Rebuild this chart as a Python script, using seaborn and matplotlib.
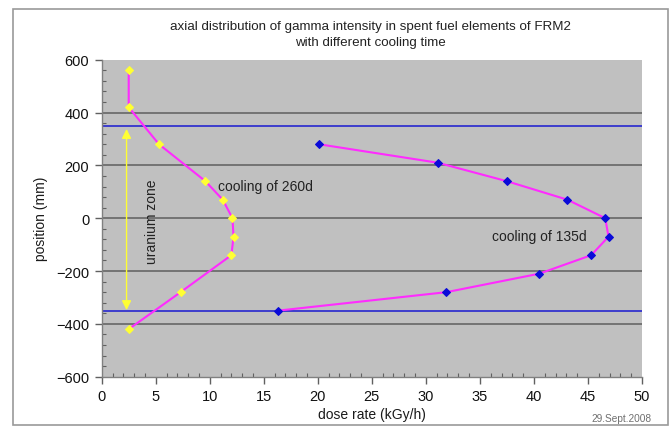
import matplotlib
matplotlib.use("Agg")
import matplotlib.pyplot as plt
import seaborn as sns
import pandas as pd
from matplotlib.ticker import MultipleLocator
from matplotlib.patches import Rectangle

# ---- data ----
dose_260d = [2.5, 2.5, 5.3, 9.6, 11.2, 12.1, 12.2, 12.0, 7.3, 2.5]
pos_260d = [560, 420, 280, 140, 70, 0, -70, -140, -280, -420]
dose_135d = [20.1, 31.1, 37.5, 43.1, 46.6, 46.9, 45.3, 40.5, 31.9, 16.3]
pos_135d = [280, 210, 140, 70, 0, -70, -140, -210, -280, -350]
zone_limits = [350, -350]
x_ticks = [0, 5, 10, 15, 20, 25, 30, 35, 40, 45, 50]
y_ticks = [-600, -400, -200, 0, 200, 400, 600]
title = "axial distribution of gamma intensity in spent fuel elements of FRM2\nwith different cooling time"
label_260 = "cooling of 260d"
label_135 = "cooling of 135d"
zone_label = "uranium zone"
date_label = "29.Sept.2008"

sns.set_theme(style="white")
plt.rcParams['font.family'] = ['Liberation Sans', 'DejaVu Sans']

fig = plt.figure(figsize=(6.72, 4.27), dpi=100)
ax = fig.add_axes([101.7 / 672, 1 - 377.7 / 427, (642 - 101.7) / 672, (377.7 - 60.7) / 427])
ax.set_facecolor('#c0c0c0')

# outer frame
fig.patches.append(Rectangle((13 / 672, 1 - 426 / 427), (668 - 13) / 672, (426 - 10) / 427,
                             transform=fig.transFigure, fill=False, edgecolor='#9a9a9a', lw=1.2))

df1 = pd.DataFrame({"dose": dose_260d, "pos": pos_260d})
df2 = pd.DataFrame({"dose": dose_135d, "pos": pos_135d})

ax.set_xlim(0, 50)
ax.set_ylim(-600, 600)
ax.set_xticks(x_ticks)
ax.set_yticks(y_ticks)
ax.xaxis.set_minor_locator(MultipleLocator(1))
ax.yaxis.set_minor_locator(MultipleLocator(40))

for yv in [-400, -200, 0, 200, 400]:
    ax.axhline(yv, color='#6e6e6e', lw=1.3, zorder=1)
for yv in zone_limits:
    ax.axhline(yv, color='#1a1ad0', lw=1.1, zorder=1.5)

sns.lineplot(data=df1, x="dose", y="pos", sort=False, estimator=None, ax=ax, color='#ff2bff', lw=1.5,
             marker='D', markersize=4, markerfacecolor='#ffff33', markeredgecolor='#ffff33', zorder=3)
sns.lineplot(data=df2, x="dose", y="pos", sort=False, estimator=None, ax=ax, color='#ff2bff', lw=1.5,
             marker='D', markersize=4, markerfacecolor='#0a0ad8', markeredgecolor='#0a0ad8', zorder=3)

ax.annotate('', xy=(2.3, -348), xytext=(2.3, 338),
            arrowprops=dict(arrowstyle='<|-|>', color='#ffff33', lw=1.0, mutation_scale=14,
                            shrinkA=0, shrinkB=0), zorder=4)
ax.text(4.65, -10, zone_label, rotation=90, ha='center', va='center', fontsize=10, color='#222222')
ax.text(10.8, 121, label_260, ha='left', va='center', fontsize=10, color='#222222')
ax.text(36.1, -66, label_135, ha='left', va='center', fontsize=10, color='#222222')

for s in ax.spines.values():
    s.set_color('#808080')
    s.set_linewidth(1.0)
ax.spines['top'].set_visible(False)
ax.spines['right'].set_visible(False)

ax.tick_params(axis='both', which='major', direction='out', length=5, width=1, color='#606060',
               labelsize=10.5, labelcolor='#111111', pad=4)
ax.tick_params(axis='both', which='minor', direction='in', length=3, width=0.8, color='#606060')
ax.tick_params(axis='x', which='both', bottom=True)
ax.tick_params(axis='y', which='both', left=True)

ax.set_xlabel("dose rate (kGy/h)", fontsize=10, color='#1a1a1a', labelpad=3)
ax.set_ylabel("position (mm)", fontsize=10, color='#1a1a1a', labelpad=6)

fig.text(370 / 672, 1 - 35 / 427, title, ha='center', va='center', fontsize=9.6,
         color='#222222', linespacing=1.35)
fig.text(652 / 672, 1 - 419 / 427, date_label, ha='right', va='center', fontsize=7.3, color='#707070')

fig.savefig("out.png", dpi=100)
